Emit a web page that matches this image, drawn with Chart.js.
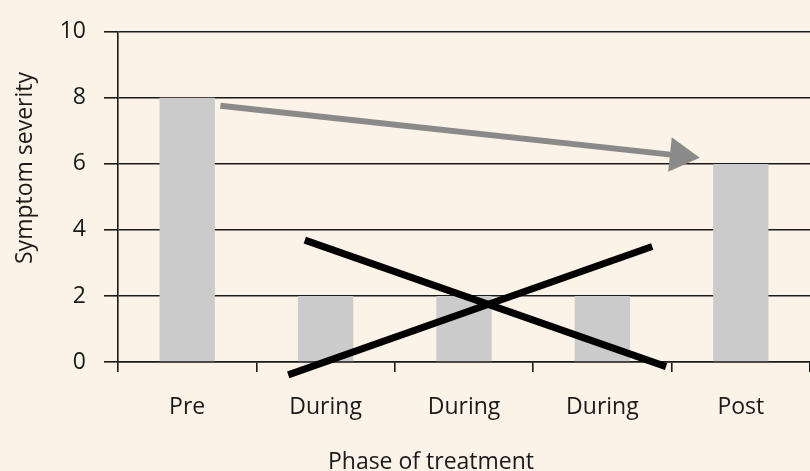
<!DOCTYPE html>
<html>
<head>
<meta charset="utf-8">
<script src="https://cdn.jsdelivr.net/npm/chart.js@4"></script>
<style>
  html, body { margin: 0; padding: 0; background: #fbf2e8; overflow: hidden; }
  #wrap { width: 810px; height: 471px; position: relative; }
</style>
</head>
<body>
<div id="wrap"><canvas id="severity-chart"></canvas></div>
<script>
// Chart values
const phases = ['Pre', 'During', 'During', 'During', 'Post'];
const severity = [8, 2, 2, 2, 6];
const yMin = 0;
const yMax = 10;
const yStep = 2;

// Annotation strokes, in category units (x) and severity units (y)
const crossDown = [{ x: 0.85, y: 3.69 }, { x: 3.46, y: -0.14 }];
const crossUp = [{ x: 0.73, y: -0.39 }, { x: 3.36, y: 3.50 }];
const trendArrow = [{ x: 0.24, y: 7.76 }, { x: 3.56, y: 6.25 }];

const textColor = '#1a1a1a';
const fontFamily = '"Open Sans", "Noto Sans", sans-serif';
const fontSize = 23;

// axis titles sit off-centre in the original, so they are drawn here
const axisTitles = {
    id: 'axisTitles',
    afterDraw(chart) {
        const ctx = chart.ctx;
        ctx.save();
        ctx.font = fontSize + 'px ' + fontFamily;
        ctx.fillStyle = textColor;
        ctx.textAlign = 'center';
        ctx.textBaseline = 'alphabetic';
        ctx.fillText('Phase of treatment', 431, 469);
        ctx.translate(32, 168);
        ctx.rotate(-Math.PI / 2);
        ctx.fillText('Symptom severity', 0, 0);
        ctx.restore();
    }
};

document.addEventListener('DOMContentLoaded', function() {
    const ctx = document.getElementById('severity-chart').getContext('2d');

    new Chart(ctx, {
        type: 'bar',
        data: {
            labels: phases,
            datasets: [
                {
                    label: 'Symptom severity',
                    data: severity,
                    backgroundColor: '#cbcbcb',
                    borderWidth: 0,
                    grouped: false,
                    barPercentage: 0.4,
                    categoryPercentage: 1,
                    order: 3
                },
                {
                    type: 'line',
                    data: crossDown,
                    xAxisID: 'x2',
                    borderColor: '#000',
                    borderWidth: 7,
                    pointRadius: 0,
                    clip: false,
                    order: 1
                },
                {
                    type: 'line',
                    data: crossUp,
                    xAxisID: 'x2',
                    borderColor: '#000',
                    borderWidth: 7,
                    pointRadius: 0,
                    clip: false,
                    order: 1
                },
                {
                    type: 'line',
                    data: trendArrow,
                    xAxisID: 'x2',
                    borderColor: '#8a8a8a',
                    borderWidth: 6,
                    pointStyle: 'triangle',
                    pointRadius: [0, 20],
                    pointRotation: 96,
                    pointBackgroundColor: '#8a8a8a',
                    pointBorderWidth: 0,
                    clip: false,
                    order: 2
                }
            ]
        },
        options: {
            responsive: true,
            maintainAspectRatio: false,
            animation: false,
            layout: {
                autoPadding: false,
                padding: { left: 60, right: 0, top: 31, bottom: 51 }
            },
            scales: {
                x: {
                    type: 'category',
                    offset: true,
                    afterFit: function(scale) {
                        scale.paddingLeft = 0;
                        scale.paddingRight = 0;
                        scale.height = 58;
                    },
                    grid: {
                        offset: true,
                        drawOnChartArea: false,
                        drawTicks: true,
                        tickLength: 10,
                        color: textColor,
                        lineWidth: 1.6
                    },
                    border: { display: true, color: textColor, width: 1.6 },
                    ticks: {
                        color: textColor,
                        padding: 22,
                        font: { family: fontFamily, size: fontSize }
                    }
                },
                x2: {
                    type: 'linear',
                    display: false,
                    min: -0.5,
                    max: 4.5,
                    offset: false
                },
                y: {
                    min: yMin,
                    max: yMax,
                    afterFit: function(scale) {
                        scale.width = 58;
                    },
                    grid: {
                        color: textColor,
                        lineWidth: 1.6,
                        tickLength: 14
                    },
                    border: { display: true, color: textColor, width: 1.6 },
                    ticks: {
                        stepSize: yStep,
                        color: textColor,
                        padding: 18,
                        font: { family: fontFamily, size: fontSize }
                    }
                }
            },
            plugins: {
                legend: { display: false },
                tooltip: { enabled: false }
            }
        },
        plugins: [axisTitles]
    });
});
</script>
</body>
</html>
